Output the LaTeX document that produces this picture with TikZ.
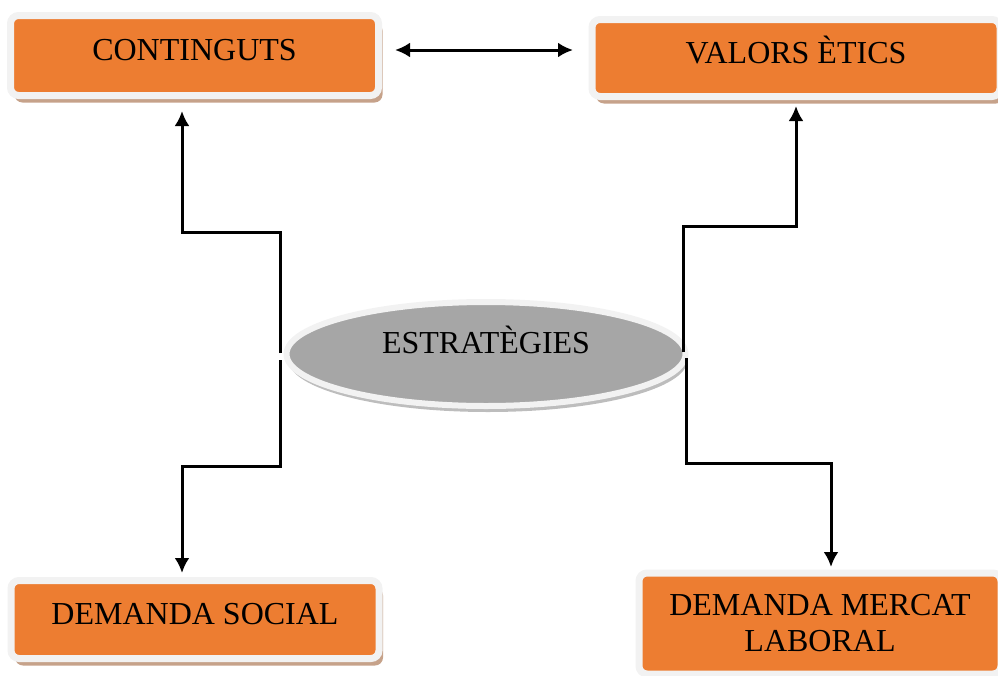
\documentclass[tikz,border=0pt]{standalone}
\usepackage{fontspec}
\setmainfont{Liberation Serif}
\usetikzlibrary{arrows.meta,shapes.geometric,shadows}
\definecolor{boxorange}{HTML}{ED7D31}
\definecolor{framegray}{HTML}{F2F2F2}
\definecolor{shadowtan}{HTML}{C6A28A}
\definecolor{ovalgray}{HTML}{A6A6A6}
\definecolor{ovalshadow}{HTML}{BDBDBD}

\begin{document}
\begin{tikzpicture}[x=1pt,y=-1pt,
  box/.style={rectangle,rounded corners=8pt,fill=boxorange,draw=framegray,line width=7pt,inner sep=0pt,
    font=\fontsize{32}{36}\selectfont,
    drop shadow={shadow xshift=4pt,shadow yshift=-7pt,fill=shadowtan,opacity=1}},
  boxtext/.style={text height=21pt,text depth=11pt},
  oval/.style={ellipse,fill=ovalgray,draw=framegray,line width=6pt,inner sep=0pt,
    minimum width=399pt,minimum height=104pt,font=\fontsize{32}{36}\selectfont,
    text height=21pt,text depth=23pt,
    drop shadow={shadow xshift=2pt,shadow yshift=-6pt,fill=ovalshadow,opacity=1}},
  conn/.style={line width=3pt,-{Latex[length=15pt,width=15pt]}}]
\useasboundingbox (0,0) rectangle (998,675);
\clip (0,0) rectangle (998,675);

\node[box,boxtext,minimum width=368pt,minimum height=80pt] (cont) at (194.5,55.5) {CONTINGUTS};
\node[box,boxtext,minimum width=408pt,minimum height=77pt] (vals) at (796,58) {VALORS ÈTICS};
\node[box,boxtext,minimum width=368pt,minimum height=78pt] (soc) at (195,619.5) {DEMANDA SOCIAL};
\node[box,align=center,minimum width=362pt,minimum height=101pt] (merc) at (820,623.5) {DEMANDA MERCAT\\LABORAL};
\node[oval] (est) at (486,354) {ESTRATÈGIES};

\coordinate (lu) at (280,353);
\coordinate (lk) at (182,232);
\coordinate (ld) at (280,360);
\coordinate (lj) at (182,466);
\coordinate (ru) at (683,352);
\coordinate (rk) at (796,226);
\coordinate (rd) at (686,358);
\coordinate (rj) at (831,463);

\draw[conn,{Latex[length=15pt,width=15pt]}-{Latex[length=15pt,width=15pt]},shorten <=13pt,shorten >=15.5pt] ([yshift=5.5pt]cont.east) -- ([yshift=5.5pt]cont.east -| vals.west);
\draw[conn,shorten >=12pt] (lu) |- (lk) -- (lk |- cont.south);
\draw[conn,shorten >=4pt] (ld) |- (lj) -- (lj |- soc.north);
\draw[conn,shorten >=6pt] (ru) |- (rk) -- (rk |- vals.south);
\draw[conn,shorten >=2.5pt] (rd) |- (rj) -- (rj |- merc.north);
\end{tikzpicture}
\end{document}
